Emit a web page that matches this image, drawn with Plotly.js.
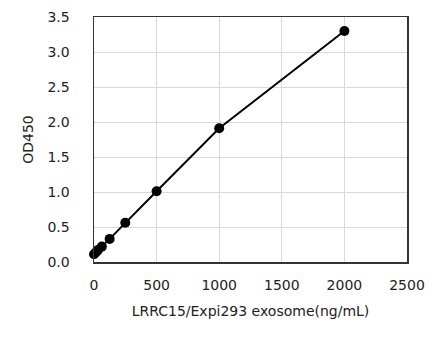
<!DOCTYPE html>
<html><head><meta charset="utf-8">
<script src="https://cdn.plot.ly/plotly-3.0.1.min.js"></script>
<style>html,body{margin:0;padding:0;background:#fff;}#chart{width:440px;height:344px;}</style>
</head><body><div id="chart"></div>
<script>
const concentration = [0, 15.6, 31.25, 62.5, 125, 250, 500, 1000, 2000];
const od450 = [0.11, 0.14, 0.17, 0.22, 0.33, 0.56, 1.01, 1.91, 3.30];
const xTitle = 'LRRC15/Expi293 exosome(ng/mL)';
const yTitle = 'OD450';

const font = {family: 'DejaVu Sans, Verdana, sans-serif', size: 14, color: '#222'};
Plotly.newPlot('chart', [{
  x: concentration, y: od450, type: 'scatter', mode: 'lines+markers',
  line: {color: '#000', width: 2},
  marker: {color: '#000', size: 10},
  cliponaxis: false
}], {
  width: 440, height: 344,
  margin: {l: 94, r: 33, t: 17, b: 82},
  paper_bgcolor: '#fff', plot_bgcolor: '#fff',
  font: font,
  showlegend: false,
  xaxis: {range: [0, 2500], dtick: 500, tick0: 0, showgrid: true, gridcolor: '#d9d9d9', gridwidth: 1,
    showline: true, linecolor: '#333', linewidth: 1.5, mirror: true, zeroline: false, ticks: '',
    ticklabelstandoff: 10,
    title: {text: xTitle, font: font, standoff: 14}},
  yaxis: {range: [0, 3.5], dtick: 0.5, tick0: 0, tickformat: '.1f', showgrid: true, gridcolor: '#d9d9d9', gridwidth: 1,
    showline: true, linecolor: '#333', linewidth: 1.5, mirror: true, zeroline: false, ticks: '',
    ticklabelstandoff: 20,
    title: {text: yTitle, font: font, standoff: 10}}
}, {displayModeBar: false, staticPlot: true});
</script></body></html>
